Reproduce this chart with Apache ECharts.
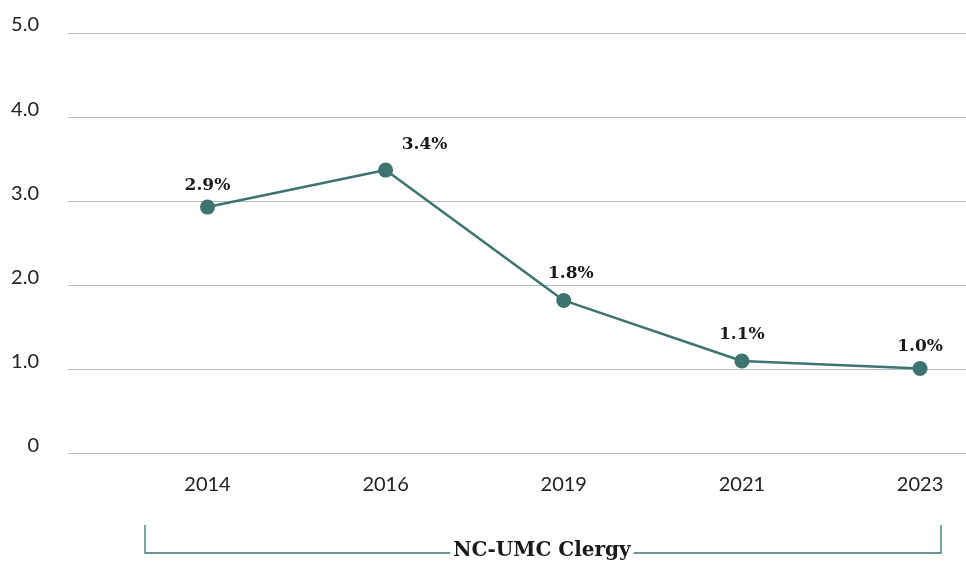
<!DOCTYPE html>
<html>
<head>
<meta charset="utf-8">
<script src="https://cdn.jsdelivr.net/npm/echarts@6/dist/echarts.min.js"></script>
<style>
html,body{margin:0;padding:0;background:#fff;}
#c{width:966px;height:566px;}
</style>
</head>
<body>
<div id="c"></div>
<script>
var categories = ['2014', '2016', '2019', '2021', '2023'];
var values = [2.93, 3.37, 1.82, 1.10, 1.01];
var yTicks = [0, 1, 2, 3, 4, 5];
var groupLabel = 'NC-UMC Clergy';

var teal = '#3e746f';
var labelOffsets = { 1: [39, -4], 2: [7, -5], 3: [0, -4] };

var seriesData = values.map(function (v, i) {
  var item = { value: [i, v] };
  if (labelOffsets[i]) item.label = { offset: labelOffsets[i] };
  return item;
});

var chart = echarts.init(document.getElementById('c'), null, { renderer: 'canvas' });
chart.setOption({
  animation: false,
  backgroundColor: '#fff',
  grid: { left: 68, right: 0, top: 33, bottom: 112.5, containLabel: false },
  xAxis: {
    type: 'value',
    min: -0.783,
    max: 4.258,
    axisLine: { show: false },
    axisTick: { show: false },
    splitLine: { show: false },
    axisLabel: {
      customValues: categories.map(function (c, i) { return i; }),
      formatter: function (v) { return categories[Math.round(v)]; },
      fontFamily: 'Lato',
      fontSize: 20,
      lineHeight: 20,
      color: '#222',
      margin: 21
    }
  },
  yAxis: {
    type: 'value',
    min: yTicks[0],
    max: yTicks[yTicks.length - 1],
    interval: 1,
    axisLine: { show: false },
    axisTick: { show: false },
    splitLine: { lineStyle: { color: '#b2bdc6', width: 1 } },
    axisLabel: {
      formatter: function (v) { return v === 0 ? '0' : v.toFixed(1); },
      fontFamily: 'Lato',
      fontSize: 20,
      lineHeight: 16,
      verticalAlign: 'bottom',
      color: '#222',
      margin: 29
    }
  },
  series: [{
    type: 'line',
    data: seriesData,
    symbol: 'circle',
    symbolSize: 15,
    lineStyle: { color: teal, width: 2.5 },
    itemStyle: { color: teal },
    label: {
      show: true,
      position: 'top',
      distance: 6,
      formatter: function (p) { return p.value[1].toFixed(1) + '%'; },
      fontFamily: 'DejaVu Serif',
      fontWeight: 'bold',
      fontSize: 17,
      lineHeight: 17,
      color: '#1a1a1a'
    }
  }],
  graphic: [
    {
      type: 'polyline',
      shape: { points: [[145, 525], [145, 553], [941, 553], [941, 525]] },
      style: { stroke: teal, lineWidth: 1.3, fill: null },
      z: 10
    },
    {
      type: 'text',
      x: 542,
      y: 551,
      style: {
        text: groupLabel,
        align: 'center',
        verticalAlign: 'middle',
        fontFamily: 'DejaVu Serif',
        fontWeight: 'bold',
        fontSize: 20,
        fill: '#1a1a1a',
        backgroundColor: '#fff',
        padding: [2, 3]
      },
      z: 11
    }
  ]
});
</script>
</body>
</html>
